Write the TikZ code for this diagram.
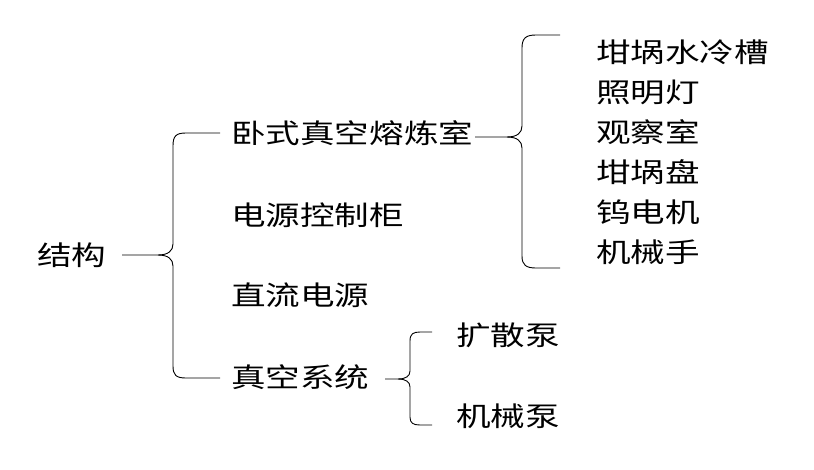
\documentclass[tikz,border=0pt]{standalone}
\usepackage{fontspec}
\newfontfamily\cjk[FakeStretch=1.28]{Noto Sans CJK SC}
\usepackage{tikz}
\usetikzlibrary{positioning}

\begin{document}
\begin{tikzpicture}[x=1pt, y=-1pt]
		\tikzstyle{Label}	= [anchor=west, inner sep=0pt, font=\cjk\fontsize{27pt}{31pt}\selectfont]
		\tikzstyle{Brace}	= [line width=0.9pt, black]

		\useasboundingbox (0,0) rectangle (814,469);

		% root and first level
		\node (v0) at (37, 255) [Label] {结构};
		\node (v1) at (231, 133) [Label] {卧式真空熔炼室};
		\node (v2) at (231, 215) [Label] {电源控制柜};
		\node (v3) at (231, 295) [Label] {直流电源};
		\node (v4) at (231, 377) [Label] {真空系统};

		% parts of the melting chamber
		\node (v5) at (596, 52) [Label] {坩埚水冷槽};
		\node (v6) at (596, 92) [Label] {照明灯};
		\node (v7) at (596, 132) [Label] {观察室};
		\node (v8) at (596, 172) [Label] {坩埚盘};
		\node (v9) at (596, 212) [Label] {钨电机};
		\node (v10) at (596, 252) [Label] {机械手};

		% parts of the vacuum system
		\node (v11) at (456, 335) [Label] {扩散泵};
		\node (v12) at (456, 416) [Label] {机械泵};

		% brace ends
		\coordinate (j0) at (122, 255);
		\coordinate (b1) at (220, 133);
		\coordinate (b4) at (220, 378);
		\coordinate (j1) at (475, 137);
		\coordinate (b5) at (560, 35);
		\coordinate (b10) at (560, 268);
		\coordinate (j4) at (385, 379);
		\coordinate (b11) at (432, 332);
		\coordinate (b12) at (432, 425);

		% main brace
		\draw [Brace] (b1) -- (186, 133) .. controls (176, 133) and (173, 136) .. (173, 146) -- (173, 244)
			.. controls (173, 251) and (168, 255) .. (158, 255) -- (j0);
		\draw [Brace] (158, 255) .. controls (168, 255) and (173, 259) .. (173, 266) -- (173, 366)
			.. controls (173, 375) and (176, 378) .. (186, 378) -- (b4);

		% brace of the melting chamber
		\draw [Brace] (b5) -- (536, 35) .. controls (526, 35) and (522, 38) .. (522, 48) -- (522, 126)
			.. controls (522, 133) and (517, 137) .. (507, 137) -- (j1);
		\draw [Brace] (507, 137) .. controls (517, 137) and (522, 141) .. (522, 148) -- (522, 256)
			.. controls (522, 265) and (526, 268) .. (536, 268) -- (b10);

		% brace of the vacuum system
		\draw [Brace] (b11) -- (420, 332) .. controls (413, 332) and (410, 334) .. (410, 341) -- (410, 371)
			.. controls (410, 376) and (406, 379) .. (398, 379) -- (j4);
		\draw [Brace] (398, 379) .. controls (406, 379) and (410, 382) .. (410, 387) -- (410, 417)
			.. controls (410, 423) and (413, 425) .. (420, 425) -- (b12);
\end{tikzpicture}
\end{document}
